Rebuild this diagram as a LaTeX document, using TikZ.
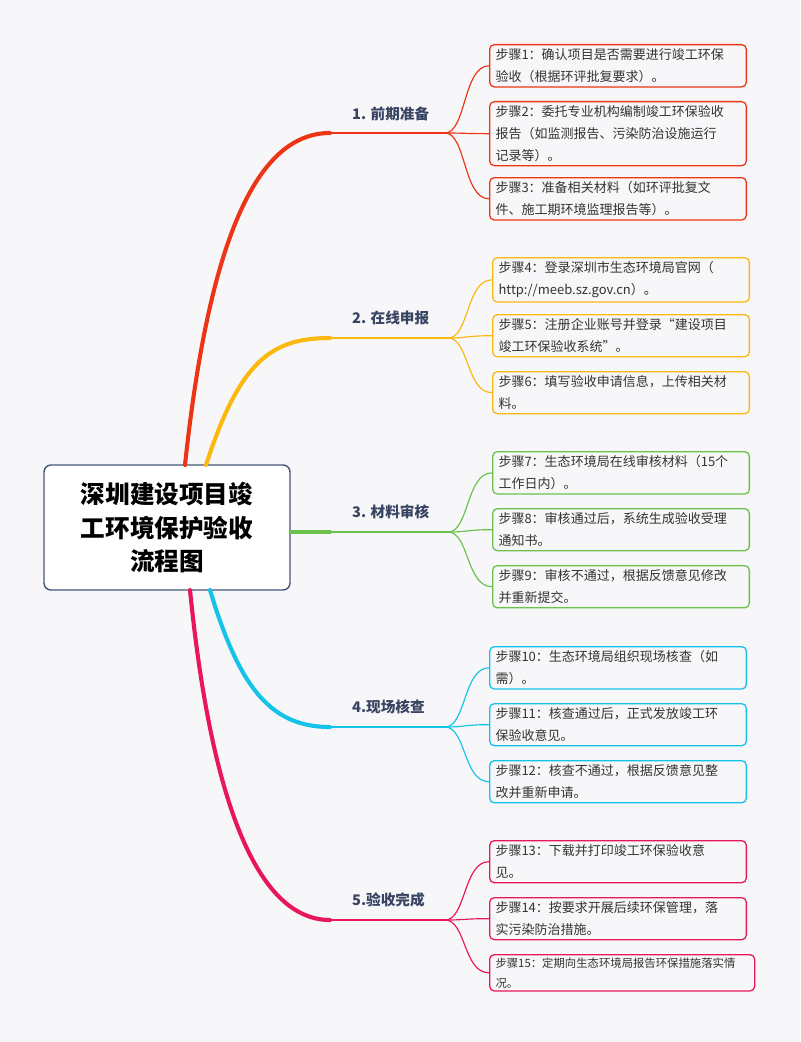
\documentclass[tikz,border=0pt]{standalone}
\usepackage{fontspec}
\setmainfont{Noto Sans CJK SC}
\definecolor{bg}{HTML}{F7F7F9}
\definecolor{cred}{HTML}{EC3416}
\definecolor{cyel}{HTML}{FBB80F}
\definecolor{cgrn}{HTML}{6BC24B}
\definecolor{ccya}{HTML}{15C3E8}
\definecolor{cmag}{HTML}{E8175D}
\definecolor{rootline}{HTML}{46557A}
\definecolor{txt}{HTML}{333333}
\tikzset{
  stepbox/.style={draw=#1, line width=1.1pt, rounded corners=4pt, fill=bg, anchor=north west,
    text width=7.35cm, align=left, inner xsep=5pt, inner ysep=3.5pt, text=txt,
    font=\fontsize{11.1}{18.6}\selectfont},
  branch/.style={anchor=west, font=\fontsize{12.5}{14}\selectfont\bfseries, text=rootline!80!black},
  trunk/.style={draw=#1, line width=3.5pt, line cap=round},
  under/.style={draw=#1, line width=1.6pt},
  twig/.style={draw=#1, line width=1pt},
}
\begin{document}
\begin{tikzpicture}[x=0.03cm, y=-0.03cm]
\useasboundingbox[fill=bg] (0,0) rectangle (800,1042);

%root
\node[draw=rootline, line width=1.2pt, rounded corners=6pt, fill=white, minimum width=246*0.03cm,
  minimum height=125*0.03cm, align=center, font=\fontsize{21}{29}\selectfont\bfseries]
  (root) at (167,527.5) {深圳建设项目竣\\工环境保护验收\\流程图};

%branch labels
\node[branch] (b1) at (348,114) {1. 前期准备};
\node[branch] (b2) at (348,318) {2. 在线申报};
\node[branch] (b3) at (348,512) {3. 材料审核};
\node[branch] (b4) at (348,707) {4.现场核查};
\node[branch] (b5) at (348,900) {5.验收完成};

\foreach \n/\y/\e in {1/133/445, 2/338/448, 3/532/448, 4/727/445, 5/920/445} {
  \coordinate (u\n) at (330,\y);
  \coordinate (v\n) at (\e,\y);
};

%step boxes
\node[stepbox=cred] (s1) at (489,44) {步骤1：确认项目是否需要进行竣工环保\\验收（根据环评批复要求）。};
\node[stepbox=cred] (s2) at (489,101) {步骤2：委托专业机构编制竣工环保验收\\报告（如监测报告、污染防治设施运行\\记录等）。};
\node[stepbox=cred] (s3) at (489,177) {步骤3：准备相关材料（如环评批复文\\件、施工期环境监理报告等）。};
\node[stepbox=cyel] (s4) at (492,257) {步骤4：登录深圳市生态环境局官网（\\http://meeb.sz.gov.cn）。};
\node[stepbox=cyel] (s5) at (492,314) {步骤5：注册企业账号并登录“建设项目\\竣工环保验收系统”。};
\node[stepbox=cyel] (s6) at (492,371) {步骤6：填写验收申请信息，上传相关材\\料。};
\node[stepbox=cgrn] (s7) at (492,451) {步骤7：生态环境局在线审核材料（15个\\工作日内）。};
\node[stepbox=cgrn] (s8) at (492,508) {步骤8：审核通过后，系统生成验收受理\\通知书。};
\node[stepbox=cgrn] (s9) at (492,565) {步骤9：审核不通过，根据反馈意见修改\\并重新提交。};
\node[stepbox=ccya] (s10) at (489,646) {步骤10：生态环境局组织现场核查（如\\需）。};
\node[stepbox=ccya] (s11) at (489,703) {步骤11：核查通过后，正式发放竣工环\\保验收意见。};
\node[stepbox=ccya] (s12) at (489,760) {步骤12：核查不通过，根据反馈意见整\\改并重新申请。};
\node[stepbox=cmag] (s13) at (489,840) {步骤13：下载并打印竣工环保验收意\\见。};
\node[stepbox=cmag] (s14) at (489,897) {步骤14：按要求开展后续环保管理，落\\实污染防治措施。};
\node[stepbox=cmag, text width=7.6cm, inner ysep=2.5pt, font=\fontsize{9.7}{17}\selectfont] (s15) at (489,954) {步骤15：定期向生态环境局报告环保措施落实情\\况。};

%trunks
\draw[trunk=cred] (185,465) .. controls (210,230) and (260,133) .. (u1);
\draw[trunk=cyel] (206,465) .. controls (240,360) and (272,338) .. (u2);
\draw[trunk=cgrn] (root.east |- u3) -- (u3);
\draw[trunk=ccya] (210,590) .. controls (240,690) and (272,727) .. (u4);
\draw[trunk=cmag] (190,590) .. controls (212,810) and (260,920) .. (u5);

%underlines and twigs
\foreach \n/\c/\a/\b/\d in {1/cred/s1/s2/s3, 2/cyel/s4/s5/s6, 3/cgrn/s7/s8/s9, 4/ccya/s10/s11/s12, 5/cmag/s13/s14/s15} {
  \draw[under=\c] (u\n) -- (v\n);
  \foreach \s in {\a,\b,\d} {
    \draw[twig=\c] (v\n) .. controls ([xshift=18]v\n) and ([xshift=-22]\s.west) .. (\s.west);
  };
};
\end{tikzpicture}
\end{document}
